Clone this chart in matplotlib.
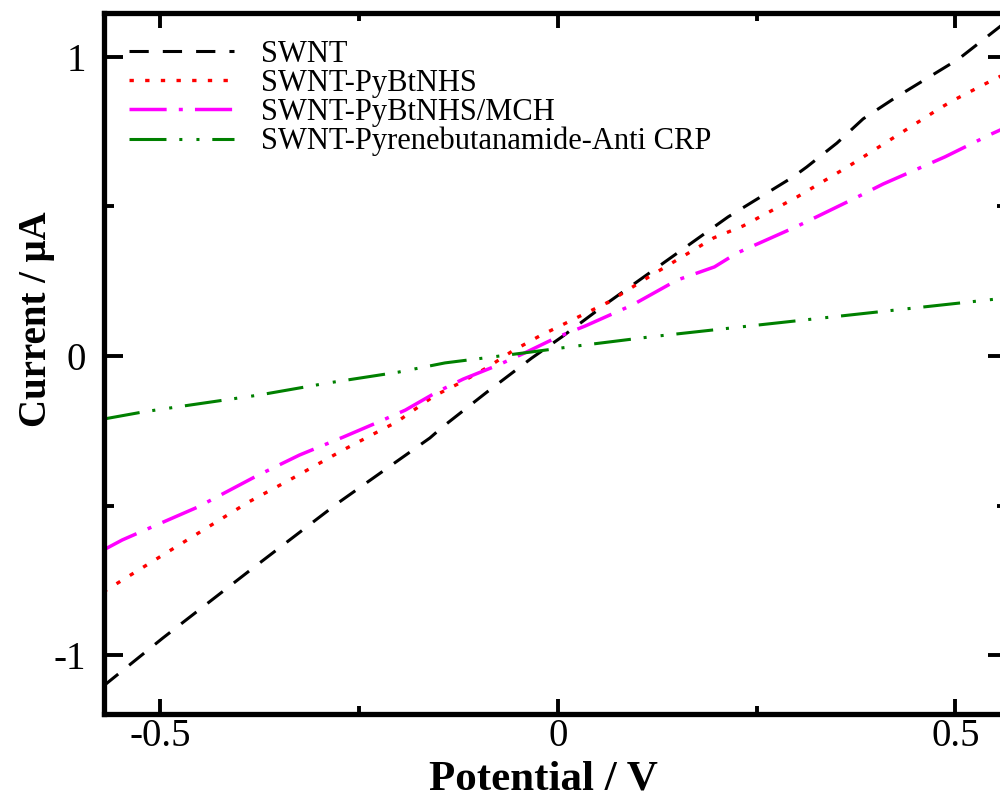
import matplotlib
matplotlib.use("Agg")
import matplotlib.pyplot as plt
from matplotlib.ticker import FixedLocator

plt.rcParams['font.family'] = ['Liberation Serif', 'DejaVu Serif']
plt.rcParams['axes.unicode_minus'] = False

# ---------------- data ----------------
v_swnt = [-0.572, -0.497, -0.387, -0.277, -0.161, -0.145, -0.089, -0.033, 0.005, 0.062,
          0.138, 0.214, 0.296, 0.313, 0.351, 0.384, 0.424, 0.504, 0.541, 0.565]
i_swnt = [-1.104, -0.943, -0.716, -0.492, -0.274, -0.237, -0.120, -0.007, 0.064, 0.177,
          0.321, 0.465, 0.599, 0.632, 0.712, 0.793, 0.863, 0.993, 1.070, 1.120]

v_nhs = [-0.572, -0.487, -0.389, -0.338, -0.270, -0.220, -0.203, -0.156, -0.121, -0.088,
         -0.057, -0.023, 0.013, 0.064, 0.114, 0.196, 0.233, 0.301, 0.366, 0.479, 0.496,
         0.547, 0.565]
i_nhs = [-0.789, -0.649, -0.488, -0.415, -0.314, -0.244, -0.221, -0.134, -0.087, -0.037,
         0.017, 0.067, 0.114, 0.181, 0.264, 0.395, 0.435, 0.532, 0.635, 0.826, 0.853,
         0.923, 0.946]

v_mch = [-0.572, -0.548, -0.511, -0.453, -0.379, -0.325, -0.270, -0.226, -0.192, -0.152,
         -0.119, -0.075, -0.042, 0.000, 0.034, 0.094, 0.150, 0.197, 0.225, 0.302, 0.377,
         0.409, 0.487, 0.545, 0.565]
i_mch = [-0.649, -0.615, -0.572, -0.505, -0.401, -0.331, -0.271, -0.221, -0.181, -0.120,
         -0.077, -0.030, 0.010, 0.064, 0.100, 0.171, 0.254, 0.298, 0.344, 0.435, 0.532,
         0.575, 0.666, 0.742, 0.766]

v_crp = [-0.572, -0.522, -0.463, -0.375, -0.289, -0.201, -0.142, -0.094, -0.035, 0.013,
         0.116, 0.229, 0.377, 0.484, 0.553, 0.565]
i_crp = [-0.211, -0.187, -0.164, -0.130, -0.090, -0.054, -0.023, -0.007, 0.013, 0.030,
         0.064, 0.097, 0.140, 0.171, 0.191, 0.195]

labels = ["SWNT", "SWNT-PyBtNHS", "SWNT-PyBtNHS/MCH", "SWNT-Pyrenebutanamide-Anti CRP"]

x_major = [-0.5, 0, 0.5]
x_major_labels = ["-0.5", "0", "0.5"]
x_minor = [-0.25, 0.25]
y_major = [-1, 0, 1]
y_major_labels = ["-1", "0", "1"]
y_minor = [-0.5, 0.5]

# ---------------- figure ----------------
fig = plt.figure(figsize=(10, 8), dpi=100)
ax = fig.add_axes([0.104, 1 - 714 / 800, 1.007 - 0.104, (714 - 13) / 800])

ax.plot(v_swnt, i_swnt, color='black', lw=2.2, dashes=(6.3, 4.6), label=labels[0])
ax.plot(v_nhs, i_nhs, color='#ff0000', lw=2.4, dashes=(1.3, 3.4), label=labels[1],
        dash_capstyle='butt')
ax.plot(v_mch, i_mch, color='#ff00ff', lw=2.5, dashes=(10.7, 3.5, 1.15, 3.5), label=labels[2])
ax.plot(v_crp, i_crp, color='#008000', lw=2.2, dashes=(12.1, 4.2, 1.0, 4.6, 1.0, 4.2),
        label=labels[3])

ax.set_xlim(-0.571, 0.565)
ax.set_ylim(-1.197, 1.147)

ax.xaxis.set_major_locator(FixedLocator(x_major))
ax.set_xticklabels(x_major_labels)
ax.xaxis.set_minor_locator(FixedLocator(x_minor))
ax.yaxis.set_major_locator(FixedLocator(y_major))
ax.set_yticklabels(y_major_labels)
ax.yaxis.set_minor_locator(FixedLocator(y_minor))

ax.tick_params(which='both', direction='in', top=True, right=True, width=2.8, colors='black')
ax.tick_params(axis='x', which='major', length=11, pad=3, labelsize=28)
ax.tick_params(axis='x', which='minor', length=5.5)
ax.tick_params(axis='y', which='major', length=13.5, pad=13, labelsize=28)
ax.tick_params(axis='y', which='minor', length=7)

for s in ax.spines.values():
    s.set_linewidth(3.8)

ax.set_xlabel("Potential / V", fontsize=31, fontweight='bold', va='baseline')
ax.xaxis.set_label_coords(0.487, -0.107)
ax.set_ylabel("Current / μA", fontsize=28, fontweight='bold', va='center')
ax.yaxis.set_label_coords(-0.0752, 0.5627)

leg = ax.legend(loc='upper left', bbox_to_anchor=(0.129, 1 - 40 / 800),
                bbox_transform=fig.transFigure, frameon=False, fontsize=22,
                handlelength=3.43, handletextpad=0.88, labelspacing=0.0,
                borderpad=0, borderaxespad=0)

fig.savefig("out.png", dpi=100)
